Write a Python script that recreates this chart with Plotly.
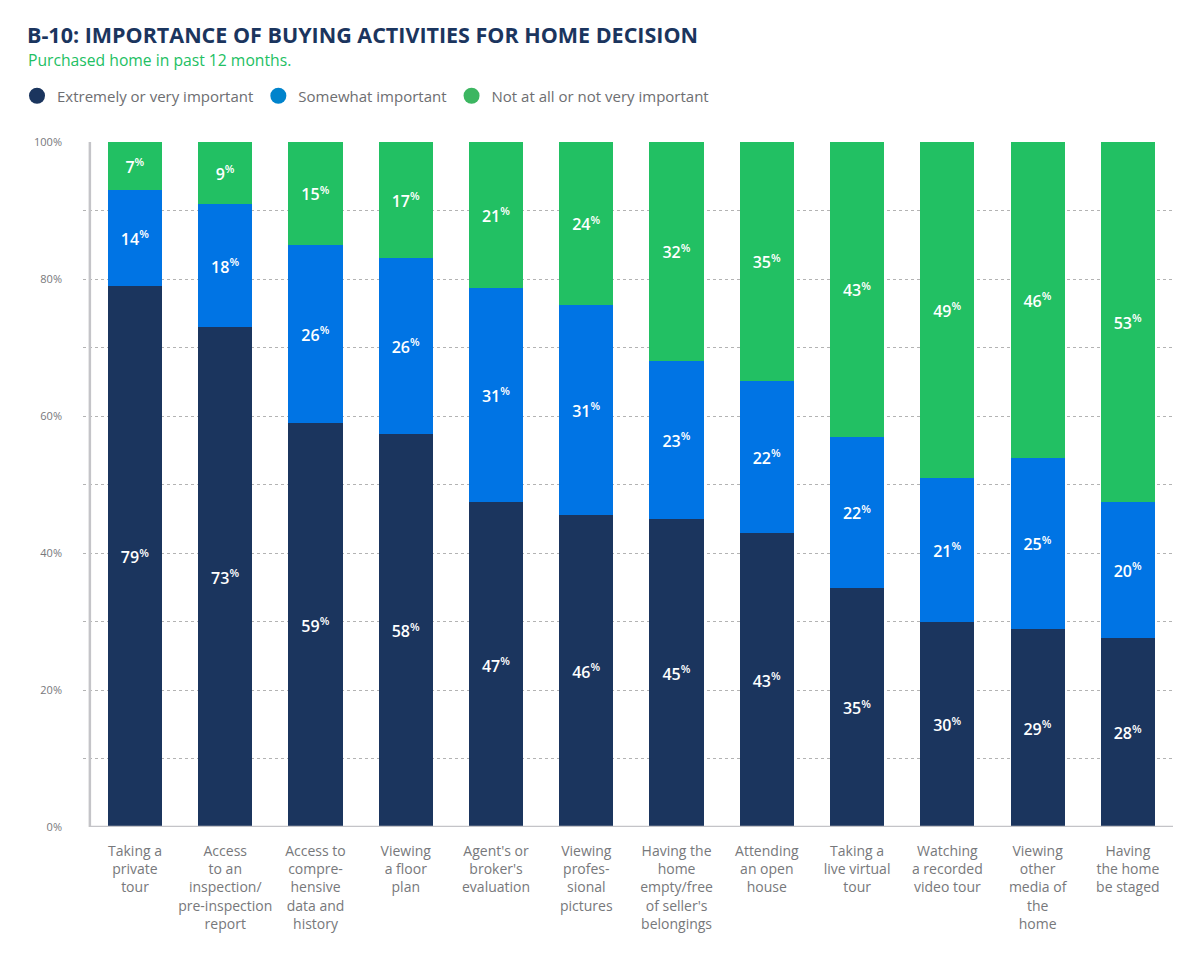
import plotly.graph_objects as go

categories = [
    "Taking a<br>private<br>tour",
    "Access<br>to an<br>inspection/<br>pre-inspection<br>report",
    "Access to<br>compre-<br>hensive<br>data and<br>history",
    "Viewing<br>a floor<br>plan",
    "Agent's or<br>broker's<br>evaluation",
    "Viewing<br>profes-<br>sional<br>pictures",
    "Having the<br>home<br>empty/free<br>of seller's<br>belongings",
    "Attending<br>an open<br>house",
    "Taking a<br>live virtual<br>tour",
    "Watching<br>a recorded<br>video tour",
    "Viewing<br>other<br>media of<br>the<br>home",
    "Having<br>the home<br>be staged",
]

series_names = ["Extremely or very important", "Somewhat important", "Not at all or not very important"]

extreme_vals = [79.0, 73.0, 59.0, 57.4, 47.4, 45.5, 45.0, 42.9, 34.9, 29.9, 28.9, 27.6]
somewhat_vals = [14.0, 17.9, 26.0, 25.7, 31.3, 30.7, 23.0, 22.2, 22.0, 21.0, 25.0, 19.8]
not_vals = [7.0, 9.1, 15.0, 16.9, 21.3, 23.8, 32.0, 34.9, 43.1, 49.1, 46.1, 52.6]

extreme_labels = [79, 73, 59, 58, 47, 46, 45, 43, 35, 30, 29, 28]
somewhat_labels = [14, 18, 26, 26, 31, 31, 23, 22, 22, 21, 25, 20]
not_labels = [7, 9, 15, 17, 21, 24, 32, 35, 43, 49, 46, 53]

y_tick_vals = [0, 20, 40, 60, 80, 100]
y_tick_text = ["0%", "20%", "40%", "60%", "80%", "100%"]

bar_colors = ["#1b355e", "#0074e4", "#22c063"]
legend_colors = ["#1b355e", "#0083cc", "#3cb661"]

FONT = "Open Sans"
xs = list(range(len(categories)))

# the page places the figure at an 8px offset
OFF = 8
W, H = 1201 - 2 * OFF, 971 - 2 * OFF
L, R, T, B = 83 - OFF, 1201 - OFF - 1173, 142 - OFF, H - (827 - OFF)
PW, PH = W - L - R, H - T - B

fig = go.Figure()
for vals, labels, color in zip([extreme_vals, somewhat_vals, not_vals],
                               [extreme_labels, somewhat_labels, not_labels], bar_colors):
    fig.add_trace(go.Bar(
        x=xs, y=vals,
        marker=dict(color=color, line=dict(width=0)),
        width=0.6,
        text=[f"{v}<sup>%</sup>" for v in labels],
        textposition="inside",
        insidetextanchor="middle",
        textangle=0,
        constraintext="none",
        textfont=dict(family=FONT, size=16, color="white", weight=600),
        showlegend=False,
        hoverinfo="skip",
    ))

for name, color in zip(series_names, legend_colors):
    fig.add_trace(go.Scatter(
        x=[None], y=[None], mode="markers", name=name,
        marker=dict(symbol="circle", size=22, color=color),
    ))

# axis lines
fig.add_shape(type="line", xref="x", yref="y", x0=-0.5, x1=-0.5, y0=0, y1=100,
              line=dict(color="#c4c4c8", width=2.5), layer="above")
fig.add_shape(type="line", xref="x", yref="y", x0=-0.5, x1=11.5, y0=0, y1=0,
              line=dict(color="#c4c4c8", width=2.5), layer="above")

fig.update_layout(
    width=W, height=H,
    barmode="stack",
    bargap=0.4,
    plot_bgcolor="white",
    paper_bgcolor="white",
    margin=dict(l=L, r=R, t=T, b=B, autoexpand=False),
    font=dict(family=FONT, color="#77787b"),
    title=dict(
        text="<b>B-10: IMPORTANCE OF BUYING ACTIVITIES FOR HOME DECISION</b>",
        xref="container", yref="container",
        x=(27 - OFF) / W, xanchor="left", y=1 - (35 - OFF) / H, yanchor="middle",
        font=dict(family=FONT, size=21.5, color="#1b355e"),
    ),
    legend=dict(
        orientation="h", xref="container", yref="container",
        x=9 / W, xanchor="left", y=1 - (96 - OFF) / H, yanchor="middle",
        font=dict(family=FONT, size=15, color="#6d6e71"),
        itemsizing="trace", traceorder="normal",
        bgcolor="rgba(0,0,0,0)",
    ),
    xaxis=dict(
        range=[-0.576, 11.5],
        tickvals=xs, ticktext=categories,
        showgrid=False, zeroline=False, showline=False,
        ticks="", tickfont=dict(family=FONT, size=14, color="#77787b"),
        ticklabelstandoff=14,
    ),
    yaxis=dict(
        range=[0, 100],
        tickvals=y_tick_vals, ticktext=y_tick_text,
        showgrid=True, gridcolor="#b3b3b3", gridwidth=1, griddash="3px,3px",
        minor=dict(dtick=10, tick0=0, showgrid=True, gridcolor="#b3b3b3",
                   gridwidth=1, griddash="3px,3px", ticks=""),
        zeroline=False, showline=False, ticks="",
        tickfont=dict(family=FONT, size=11, color="#77787b"),
        ticklabelstandoff=20,
    ),
)

fig.add_annotation(
    text="Purchased home in past 12 months.",
    xref="paper", yref="paper", x=(26 - 83) / PW, y=1 + (142 - 60) / PH,
    xanchor="left", yanchor="middle", showarrow=False,
    font=dict(family=FONT, size=15.7, color="#22c063"),
)

fig.write_html("out.html")
